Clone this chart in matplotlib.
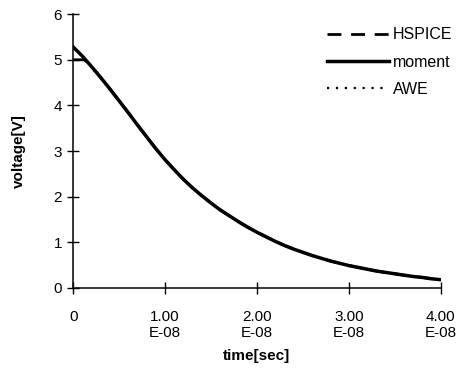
import matplotlib.pyplot as plt

plt.rcParams['font.family'] = ['Liberation Sans', 'DejaVu Sans']

# time in units of 1e-8 s, voltage in V
t = [0, 0.1, 0.2, 0.3, 0.4, 0.5, 0.6, 0.7, 0.8, 0.9, 1.0,
     1.1, 1.2, 1.3, 1.4, 1.5, 1.6, 1.7, 1.8, 1.9, 2.0,
     2.1, 2.2, 2.3, 2.4, 2.5, 2.6, 2.7, 2.8, 2.9, 3.0,
     3.1, 3.2, 3.3, 3.4, 3.5, 3.6, 3.7, 3.8, 3.9, 4.0]
v_moment = [5.28, 5.08, 4.85, 4.61, 4.36, 4.10, 3.84, 3.57, 3.31, 3.05, 2.81,
            2.59, 2.38, 2.19, 2.02, 1.86, 1.71, 1.58, 1.45, 1.33, 1.22,
            1.12, 1.02, 0.93, 0.85, 0.78, 0.71, 0.65, 0.59, 0.54, 0.49,
            0.45, 0.41, 0.37, 0.34, 0.31, 0.28, 0.25, 0.23, 0.20, 0.18]
t_hspice = [0, 0.12, 0.2, 0.3, 0.4, 0.5, 0.6, 0.7, 0.8, 0.9, 1.0,
            1.1, 1.2, 1.3, 1.4, 1.5, 1.6, 1.7, 1.8, 1.9, 2.0,
            2.1, 2.2, 2.3, 2.4, 2.5, 2.6, 2.7, 2.8, 2.9, 3.0,
            3.1, 3.2, 3.3, 3.4, 3.5, 3.6, 3.7, 3.8, 3.9, 4.0]
v_hspice = [5.0, 5.0, 4.85, 4.61, 4.36, 4.10, 3.84, 3.57, 3.31, 3.05, 2.81,
            2.59, 2.38, 2.19, 2.02, 1.86, 1.71, 1.58, 1.45, 1.33, 1.22,
            1.12, 1.02, 0.93, 0.85, 0.78, 0.71, 0.65, 0.59, 0.54, 0.49,
            0.45, 0.41, 0.37, 0.34, 0.31, 0.28, 0.25, 0.23, 0.20, 0.18]
v_awe = [5.28, 5.08, 4.85, 4.61, 4.36, 4.10, 3.84, 3.57, 3.31, 3.05, 2.81,
         2.59, 2.38, 2.19, 2.02, 1.86, 1.71, 1.58, 1.45, 1.33, 1.22,
         1.12, 1.02, 0.93, 0.85, 0.78, 0.71, 0.65, 0.59, 0.54, 0.49,
         0.45, 0.41, 0.37, 0.34, 0.31, 0.28, 0.25, 0.23, 0.20, 0.18]

xticks = [0, 1, 2, 3, 4]
xticklabels = ['0', '1.00\nE-08', '2.00\nE-08', '3.00\nE-08', '4.00\nE-08']
yticks = [0, 1, 2, 3, 4, 5, 6]

fig = plt.figure(figsize=(4.63, 3.72), dpi=100)
ax = fig.add_axes([0.158, 0.226, 0.794, 0.736])

ax.plot(t_hspice, v_hspice, color='black', lw=2.0, ls=(0, (5, 3.5)), label='HSPICE')
ax.plot(t, v_moment, color='black', lw=2.5, ls='-', label='moment')
ax.plot(t, v_awe, color='black', lw=1.6, ls=(0, (1, 3)), label='AWE')

ax.set_xlim(0, 4)
ax.set_ylim(0, 6)
ax.set_xticks(xticks)
ax.set_xticklabels(xticklabels, linespacing=1.2)
ax.set_yticks(yticks)
ax.spines['top'].set_visible(False)
ax.spines['right'].set_visible(False)
ax.spines['left'].set_linewidth(1.1)
ax.spines['bottom'].set_linewidth(1.1)
ax.tick_params(axis='both', direction='inout', length=8, width=1, labelsize=11)
ax.tick_params(axis='x', pad=12)
ax.tick_params(axis='y', pad=4)

ax.set_xlabel('time[sec]', fontsize=11, fontweight='bold', labelpad=6)
ax.set_ylabel('voltage[V]', fontsize=11, fontweight='bold', labelpad=20)

ax.legend(loc='upper right', bbox_to_anchor=(1.07, 1.005), frameon=False,
          fontsize=11.5, handlelength=3.9, handletextpad=0.2, labelspacing=0.78)

fig.savefig('out.png', dpi=100)
